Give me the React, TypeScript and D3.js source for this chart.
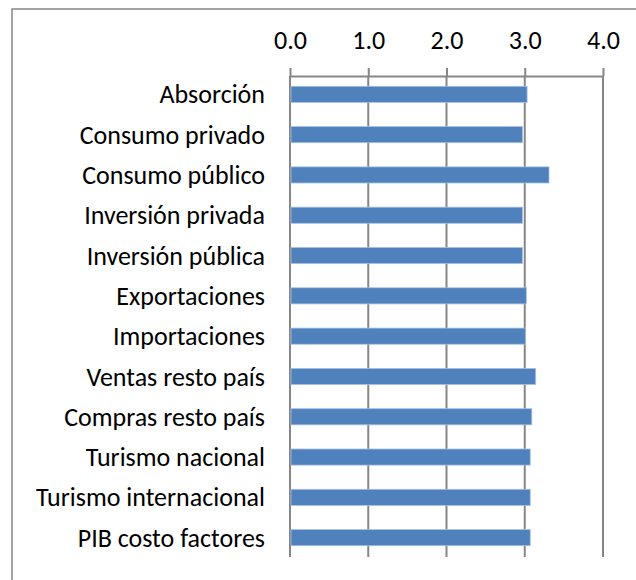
import React, { useRef, useEffect } from 'react';
import * as d3 from 'd3';

const categories = [
  'Absorción',
  'Consumo privado',
  'Consumo público',
  'Inversión privada',
  'Inversión pública',
  'Exportaciones',
  'Importaciones',
  'Ventas resto país',
  'Compras resto país',
  'Turismo nacional',
  'Turismo internacional',
  'PIB costo factores',
];
const values = [3.03, 2.97, 3.31, 2.97, 2.97, 3.02, 3.01, 3.14, 3.09, 3.07, 3.07, 3.07];
const tickValues = [0, 1, 2, 3, 4];

const width = 636;
const height = 580;
const font = 'Carlito, Calibri, Lato, sans-serif';

const App = () => {
  const svgRef = useRef<SVGSVGElement>(null);

  useEffect(() => {
    const svg = d3.select(svgRef.current);
    svg.selectAll('*').remove();

    // chart frame (right/bottom edges fall outside the picture)
    svg.append('rect')
      .attr('x', 12).attr('y', 9)
      .attr('width', 640).attr('height', 600)
      .attr('fill', '#fff')
      .attr('stroke', '#868686')
      .attr('stroke-width', 1.5);

    const xScale = d3.scaleLinear().domain([0, 4]).range([290, 603]);
    const yScale = d3.scaleBand()
      .domain(categories)
      .range([75, 557])
      .paddingInner(0.6)
      .paddingOuter(0.28);

    // top axis with gridlines
    const xAxis = d3.axisTop(xScale)
      .tickValues(tickValues)
      .tickSize(8)
      .tickSizeOuter(0)
      .tickPadding(19)
      .tickFormat((d) => d3.format('.1f')(d as number));
    const xg = svg.append('g').attr('transform', 'translate(0,76)').call(xAxis);
    xg.select('.domain').attr('stroke', '#868686').attr('stroke-width', 2);
    xg.selectAll('line').attr('stroke', '#868686').attr('stroke-width', 2);
    xg.selectAll('text')
      .attr('fill', '#000')
      .attr('font-family', font)
      .attr('font-size', 26);

    svg.append('g')
      .selectAll('line')
      .data(tickValues)
      .enter()
      .append('line')
      .attr('x1', (d) => xScale(d)).attr('x2', (d) => xScale(d))
      .attr('y1', 76).attr('y2', 557)
      .attr('stroke', '#868686')
      .attr('stroke-width', 2);

    // bars
    svg.append('g')
      .selectAll('rect')
      .data(values)
      .enter()
      .append('rect')
      .attr('x', xScale(0) + 1)
      .attr('y', (d, i) => yScale(categories[i])!)
      .attr('width', (d) => xScale(d) - xScale(0) - 1)
      .attr('height', yScale.bandwidth())
      .attr('fill', '#4F81BD')
      .attr('stroke', '#A9C1E0')
      .attr('stroke-width', 0.8);

    // category labels
    svg.append('g')
      .selectAll('text')
      .data(categories)
      .enter()
      .append('text')
      .attr('x', 265)
      .attr('y', (d) => yScale(d)! + yScale.bandwidth() / 2)
      .attr('dy', '0.35em')
      .attr('text-anchor', 'end')
      .attr('font-family', font)
      .attr('font-size', 26)
      .attr('fill', '#000')
      .text((d) => d);
  }, []);

  return (
    <svg
      ref={svgRef}
      width={width}
      height={height}
      style={{ position: 'absolute', left: 0, top: 0 }}
    />
  );
};

export default App;
